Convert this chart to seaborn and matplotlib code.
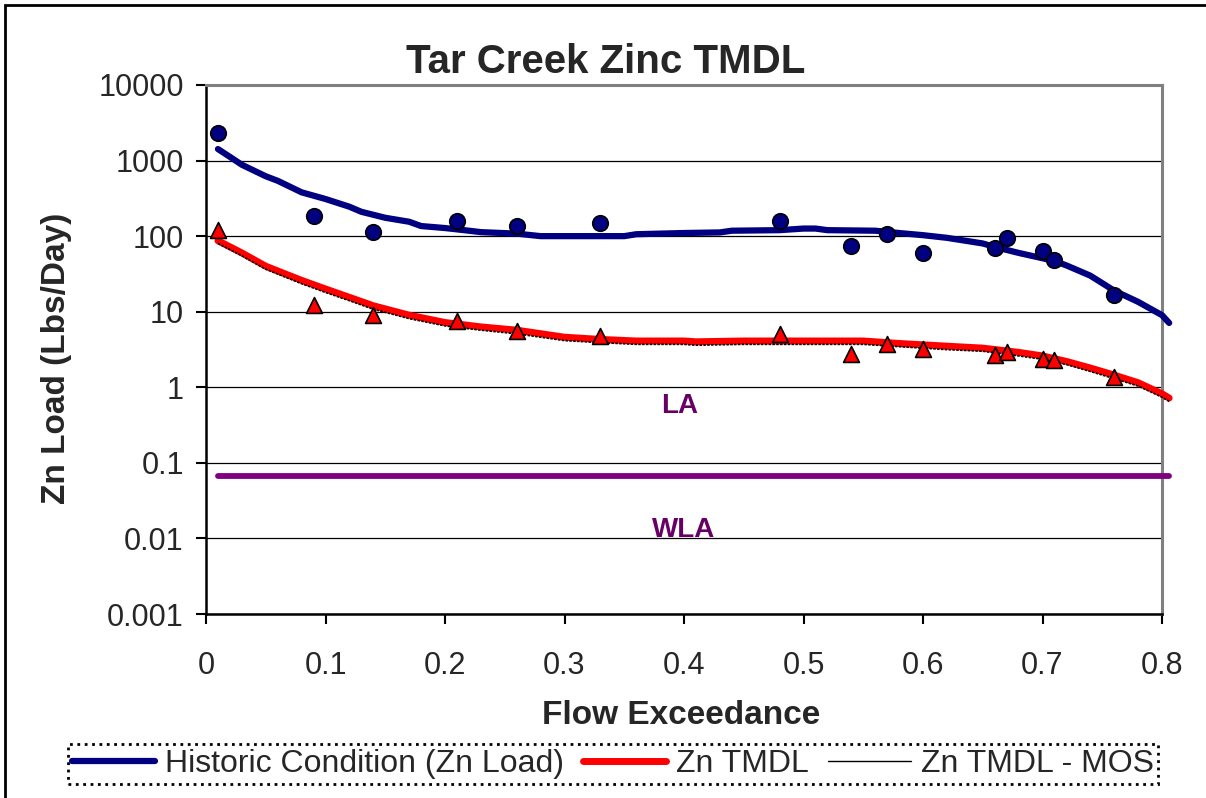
import numpy as np
import pandas as pd
import matplotlib
matplotlib.use("Agg")
import matplotlib.pyplot as plt
from matplotlib.patches import Rectangle
from matplotlib.lines import Line2D
import matplotlib.ticker as mticker
import seaborn as sns

# historic load duration curve (Zn load, lbs/day)
hist_x = [0.01, 0.02, 0.03, 0.05, 0.06, 0.08, 0.10, 0.12, 0.13, 0.15, 0.17, 0.18,
          0.20, 0.22, 0.23, 0.26, 0.28, 0.30, 0.33, 0.35, 0.36, 0.40, 0.43, 0.44,
          0.48, 0.50, 0.51, 0.52, 0.56, 0.58, 0.60, 0.62, 0.65, 0.66, 0.68, 0.70,
          0.71, 0.72, 0.74, 0.76, 0.78, 0.80, 0.806]
hist_y = [1420, 1120, 880, 620, 540, 380, 310, 245, 210, 175, 155, 136,
          128, 118, 113, 108, 100, 100, 100, 100, 106, 110, 112, 118,
          120, 126, 126, 120, 118, 110, 103, 95, 80, 72, 60, 51,
          47, 41, 30, 19, 13.5, 9.0, 7.1]

# TMDL curve and TMDL minus margin of safety
tmdl_x = [0.01, 0.03, 0.05, 0.08, 0.10, 0.12, 0.14, 0.17, 0.20, 0.23, 0.26, 0.30,
          0.33, 0.36, 0.40, 0.41, 0.45, 0.50, 0.55, 0.58, 0.62, 0.65, 0.68, 0.70,
          0.72, 0.74, 0.76, 0.78, 0.80, 0.806]
tmdl_y = [87, 60, 40, 26, 20, 15.5, 12, 9.0, 7.2, 6.3, 5.7, 4.6,
          4.3, 4.1, 4.1, 4.0, 4.1, 4.1, 4.1, 3.8, 3.5, 3.3, 2.9, 2.6,
          2.2, 1.8, 1.45, 1.15, 0.82, 0.72]
mos_y = [80, 55, 36.5, 23.5, 18, 14, 10.8, 8.1, 6.5, 5.7, 5.1, 4.15,
         3.9, 3.7, 3.7, 3.6, 3.7, 3.7, 3.7, 3.45, 3.15, 3.0, 2.6, 2.35,
         2.0, 1.62, 1.3, 1.04, 0.74, 0.65]

# sampled loads
obs_x = [0.01, 0.09, 0.14, 0.21, 0.26, 0.33, 0.48, 0.54, 0.57, 0.60, 0.66, 0.67, 0.70, 0.71, 0.76]
obs_load = [2300, 185, 114, 159, 136, 150, 159, 74, 107, 60, 70, 95, 64, 48, 16.7]
obs_tmdl = [120, 12.3, 9.1, 7.6, 5.6, 4.8, 5.1, 2.77, 3.75, 3.2, 2.7, 2.95, 2.38, 2.3, 1.37]

# LA / WLA split line
split_x = [0.01, 0.806]
split_y = [0.067, 0.067]

y_ticks = [0.001, 0.01, 0.1, 1, 10, 100, 1000, 10000]
x_ticks = [0, 0.1, 0.2, 0.3, 0.4, 0.5, 0.6, 0.7, 0.8]

sns.set_style("white")
plt.rcParams['font.family'] = ['Liberation Sans', 'DejaVu Sans']

fig = plt.figure(figsize=(12.06, 7.98), dpi=100)
ax = fig.add_axes([206 / 1206, 1 - 614 / 798, 956 / 1206, 529 / 798])

navy = '#000080'
sns.lineplot(x=hist_x, y=hist_y, ax=ax, color=navy, lw=4.5, clip_on=False,
             label='Historic Condition (Zn Load)', legend=False, zorder=3)
sns.lineplot(x=tmdl_x, y=tmdl_y, ax=ax, color='red', lw=5, clip_on=False,
             label='Zn TMDL', legend=False, zorder=3)
sns.lineplot(x=tmdl_x, y=mos_y, ax=ax, color='black', lw=1.2, ls=(0, (1.5, 0.8)),
             clip_on=False, label='Zn TMDL - MOS', legend=False, zorder=4)
sns.lineplot(x=split_x, y=split_y, ax=ax, color='#800080', lw=4.2, clip_on=False,
             legend=False, zorder=3)
sns.scatterplot(x=obs_x, y=obs_load, ax=ax, color=navy, marker='o', s=125,
                edgecolor='black', linewidth=1.2, zorder=5, legend=False)
sns.scatterplot(x=obs_x, y=obs_tmdl, ax=ax, color='red', marker='^', s=130,
                edgecolor='black', linewidth=1.2, zorder=5, legend=False)

ax.set_yscale('log')
ax.set_ylim(0.001, 10000)
ax.set_xlim(0, 0.8)
ax.set_yticks(y_ticks)
ax.set_xticks(x_ticks)
ax.yaxis.set_major_formatter(mticker.FuncFormatter(lambda v, p: f'{v:g}'))
ax.xaxis.set_major_formatter(mticker.FuncFormatter(lambda v, p: f'{v:g}'))
ax.yaxis.set_minor_locator(mticker.NullLocator())
ax.tick_params(axis='both', which='major', labelsize=22, direction='out',
               length=7, width=1.5, color='black', left=True, bottom=True)
ax.tick_params(axis='y', pad=9)
ax.tick_params(axis='x', pad=20)
ax.grid(axis='y', color='black', lw=0.9)
ax.grid(axis='x', visible=False)
ax.set_axisbelow(True)
for side in ['left', 'bottom']:
    ax.spines[side].set_color('black')
    ax.spines[side].set_linewidth(1.8)
for side in ['top', 'right']:
    ax.spines[side].set_color('#808080')
    ax.spines[side].set_linewidth(2.2)
ax.set_xlabel('')
ax.set_ylabel('')

ax.text(0.3967, 0.567, 'LA', color='#660066', fontsize=20, fontweight='bold',
        ha='center', va='center')
ax.text(0.400, 0.013, 'WLA', color='#660066', fontsize=20, fontweight='bold',
        ha='center', va='center')

fig.text(606 / 1206, 1 - 73 / 798, 'Tar Creek Zinc TMDL', fontsize=29,
         fontweight='bold', ha='center', va='baseline')
fig.text(57 / 1206, 1 - 358 / 798, 'Zn Load (Lbs/Day)', fontsize=24,
         fontweight='bold', rotation=90, ha='center', va='center')
fig.text(681 / 1206, 1 - 716 / 798, 'Flow Exceedance', fontsize=24,
         fontweight='bold', ha='center', va='center')

handles = [Line2D([], [], color=navy, lw=4.5),
           Line2D([], [], color='red', lw=5),
           Line2D([], [], color='black', lw=1.0)]
labels = ['Historic Condition (Zn Load)', 'Zn TMDL', 'Zn TMDL - MOS']
leg = fig.legend(handles, labels, loc='center', ncol=3,
                 bbox_to_anchor=(613 / 1206, 1 - 764 / 798), fontsize=23,
                 handlelength=2.6, handletextpad=0.3, columnspacing=0.6,
                 borderpad=0.15, fancybox=False, framealpha=1)
leg.get_frame().set_edgecolor('black')
leg.get_frame().set_linestyle(':')
leg.get_frame().set_linewidth(2)

fig.add_artist(Rectangle((5 / 1206, -0.1), 1.2, 1.1 - 5 / 798, fill=False,
                         edgecolor='black', lw=2, transform=fig.transFigure,
                         clip_on=False))

fig.savefig('out.png', dpi=100)
